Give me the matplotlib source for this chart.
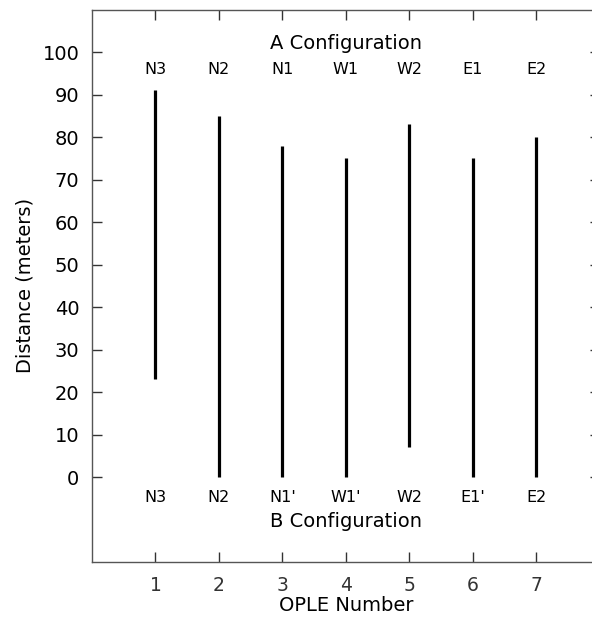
import numpy as np
import matplotlib
matplotlib.use("Agg")
import matplotlib.pyplot as plt

# data
ople = [1, 2, 3, 4, 5, 6, 7]
a_labels = ["N3", "N2", "N1", "W1", "W2", "E1", "E2"]
b_labels = ["N3", "N2", "N1'", "W1'", "W2", "E1'", "E2"]
dist_top = [91, 85, 78, 75, 83, 75, 80]
dist_bottom = [23, 0, 0, 0, 7, 0, 0]

plt.rcParams['font.family'] = ['DejaVu Sans']

fig = plt.figure(figsize=(5.92, 6.20), dpi=100)
ax = fig.add_axes([0.1554, 0.0935, 0.858, 0.891])

ax.vlines(ople, dist_bottom, dist_top, color="black", linewidth=2.3)

for x, lab in zip(ople, a_labels):
    ax.text(x, 96, lab, ha="center", va="center", fontsize=11.5)
for x, lab in zip(ople, b_labels):
    ax.text(x, -4.8, lab, ha="center", va="center", fontsize=11.5)

ax.text(4, 102, "A Configuration", ha="center", va="center", fontsize=14)
ax.text(4, -10.5, "B Configuration", ha="center", va="center", fontsize=14)

ax.set_xlim(0, 8)
ax.set_ylim(-20, 110)
ax.set_xticks(ople)
ax.set_yticks(np.arange(0, 101, 10))

ax.tick_params(direction="in", length=7, width=1, top=True, right=True,
               labelsize=14, colors="#333333", labelcolor="black", pad=9)
ax.tick_params(axis="x", labelcolor="#333333", labelsize=13.5, pad=10)
for s in ax.spines.values():
    s.set_color("#555555")
    s.set_linewidth(1)

ax.set_xlabel("OPLE Number", fontsize=14, labelpad=1)
ax.set_ylabel("Distance (meters)", fontsize=14, labelpad=6)

fig.savefig("out.png", dpi=100)
